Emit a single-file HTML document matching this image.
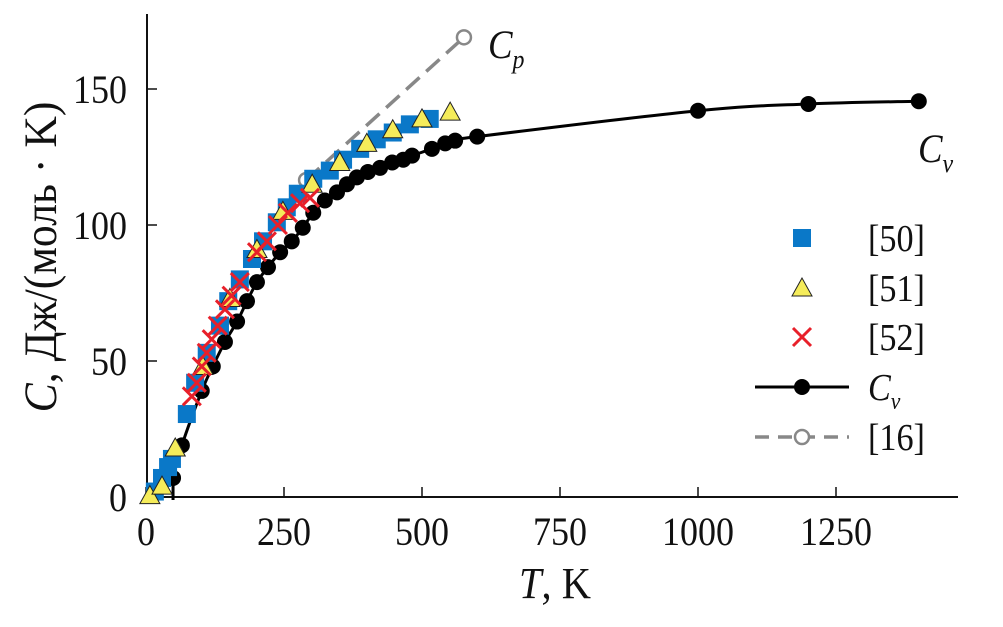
<!DOCTYPE html>
<html><head><meta charset="utf-8"><style>
body{margin:0;background:#fff;}
svg text{font-family:"Liberation Serif",serif !important;fill:#111;}
</style></head><body>
<svg id="chart" width="1003" height="622" viewBox="0 0 1003 622" xmlns="http://www.w3.org/2000/svg" font-family="Liberation Serif, serif">
<g id="axes"></g>
<g id="series"></g>
<text transform="translate(488,58) scale(0.92,1)" font-size="40" font-style="italic">C<tspan font-size="26" dy="10">p</tspan></text>
<text transform="translate(918,162) scale(0.92,1)" font-size="40" font-style="italic">C<tspan font-size="26" dy="10">v</tspan></text>
<text transform="translate(555,598) scale(0.92,1)" font-size="44" text-anchor="middle"><tspan font-style="italic">T</tspan>, K</text>
<text transform="translate(56,257) rotate(-90) scale(0.93,1)" font-size="47" text-anchor="middle"><tspan font-style="italic">C</tspan>, Дж/(моль · K)</text>
<g id="legend"></g>
</svg>
<script>
const xTicks=[0,250,500,750,1000,1250];
const yTicks=[0,50,100,150];
const t50=[16,29,40,47,74,89,110,134,149,170,192,212,237,255,275,303,333,357,388,418,447,478,514];
const c50=[2,7,11,14,30.5,42,53,63,72,80,87.5,94,101,106.5,111.5,117,120,124,128,131.5,134,137,139];
const t51=[7,29,53,103,152,201,248,301,351,400,447,500,551];
const c51=[0.5,4,18,48,73,91,105,115,123,130,135,139,141.5];
const t52=[83,92,101,110,119,130,143,155,170,201,219,239,257,279,297];
const c52=[37,42,48,53,58,63,69,74,79,90,94,100,104.5,108,110];
const tCv=[49,65,101,121,143,165,183,201,221,243,264,284,303,324,346,364,382,402,424,446,466,482,518,542,560,600,1000,1200,1400];
const cCv=[7,19,39,48,57,64.5,72,79,84.5,90,94,99,104.5,109,112,115,117.5,119.5,121,123,124,125.5,128,130,131,132.5,142,144.5,145.5];
const tCp=[290,576];
const cCp=[116.5,169];

const NS="http://www.w3.org/2000/svg";
const X=t=>146+t*0.552, Y=c=>497-c*2.72;
function mk(tag,attrs,parent){const e=document.createElementNS(NS,tag);for(const k in attrs)e.setAttribute(k,attrs[k]);parent.appendChild(e);return e;}
const axes=document.getElementById('axes'), ser=document.getElementById('series'), leg=document.getElementById('legend');

let a=mk('line',{x1:147,y1:14,x2:147,y2:498,stroke:'#111','stroke-width':2},axes);


a=mk('line',{x1:146,y1:497,x2:958,y2:497,stroke:'#111','stroke-width':2},axes);


xTicks.forEach(v=>{
  const l=mk('line',{x1:X(v),y1:497,x2:X(v),y2:487,stroke:'#111','stroke-width':1.5},axes);
  
  
  const t=mk('text',{transform:`translate(${X(v)},545) scale(0.9,1)`,'font-size':40,'font-family':'Liberation Serif, serif','text-anchor':'middle'},axes);t.textContent=v;
  
  
});
yTicks.forEach(v=>{
  const l=mk('line',{x1:147,y1:Y(v),x2:157,y2:Y(v),stroke:'#111','stroke-width':1.5},axes);
  
  
  const t=mk('text',{transform:`translate(127,${Y(v)+14}) scale(0.9,1)`,'font-size':40,'font-family':'Liberation Serif, serif','text-anchor':'end'},axes);t.textContent=v;
  
  
});

let p=mk('line',{x1:X(tCp[0]),y1:Y(cCp[0]),x2:X(tCp[1]),y2:Y(cCp[1]),stroke:'#888','stroke-width':3.5,'stroke-dasharray':'18 9'},ser);


tCp.forEach((t,i)=>{const c=mk('circle',{cx:X(t),cy:Y(cCp[i]),r:7,fill:'#fff',stroke:'#888','stroke-width':2.5},ser);
  
  });

const pts=tCv.map((t,i)=>[X(t),Y(cCv[i])]);
let d='M'+pts[0][0]+','+(pts[0][1]+22)+' L'+pts[0][0]+','+pts[0][1];
for(let i=0;i<pts.length-1;i++){const p0=pts[Math.max(0,i-1)],p1=pts[i],p2=pts[i+1],p3=pts[Math.min(pts.length-1,i+2)];
 d+=` C${p1[0]+(p2[0]-p0[0])/6},${p1[1]+(p2[1]-p0[1])/6} ${p2[0]-(p3[0]-p1[0])/6},${p2[1]-(p3[1]-p1[1])/6} ${p2[0]},${p2[1]}`;}
p=mk('path',{d:d,fill:'none',stroke:'#000','stroke-width':3},ser);


pts.forEach(q=>{const c=mk('circle',{cx:q[0],cy:q[1],r:8,fill:'#000'},ser);
  
  });

function square(x,y,par){return mk('rect',{x:x-9,y:y-9,width:18,height:18,fill:'#0a78c8'},par);}
function tri(x,y,par){return mk('polygon',{points:`${x},${y-10} ${x-10},${y+8} ${x+10},${y+8}`,fill:'#f5ec5a',stroke:'#222','stroke-width':1},par);}
function cross(x,y,par){return mk('path',{d:`M${x-9},${y-9}L${x+9},${y+9}M${x-9},${y+9}L${x+9},${y-9}`,stroke:'#e8202a','stroke-width':3},par);}
t50.forEach((t,i)=>{const e=square(X(t),Y(c50[i]),ser);
  
  });
t51.forEach((t,i)=>{const e=tri(X(t),Y(c51[i]),ser);
  
  });
t52.forEach((t,i)=>{const e=cross(X(t),Y(c52[i]),ser);
  
  });

const rows=[238,288,337,387,437];
let e=square(802,rows[0],leg);


e=tri(802,rows[1],leg);


e=cross(802,rows[2],leg);


e=mk('line',{x1:755,y1:rows[3],x2:849,y2:rows[3],stroke:'#000','stroke-width':3},leg);


e=mk('circle',{cx:802,cy:rows[3],r:8,fill:'#000'},leg);


e=mk('line',{x1:755,y1:rows[4],x2:849,y2:rows[4],stroke:'#888','stroke-width':3.5,'stroke-dasharray':'14 9'},leg);


e=mk('circle',{cx:802,cy:rows[4],r:7,fill:'#fff',stroke:'#888','stroke-width':2.5},leg);


['[50]','[51]','[52]',null,'[16]'].forEach((s,i)=>{
  const t=mk('text',{transform:`translate(868,${rows[i]+13}) scale(0.9,1)`,'font-size':38,'font-family':'Liberation Serif, serif'},leg);
  if(s)t.textContent=s;else{t.setAttribute('font-style','italic');t.innerHTML='C<tspan font-size="24" dy="9">v</tspan>';}
  
  
});
</script>
</body></html>
